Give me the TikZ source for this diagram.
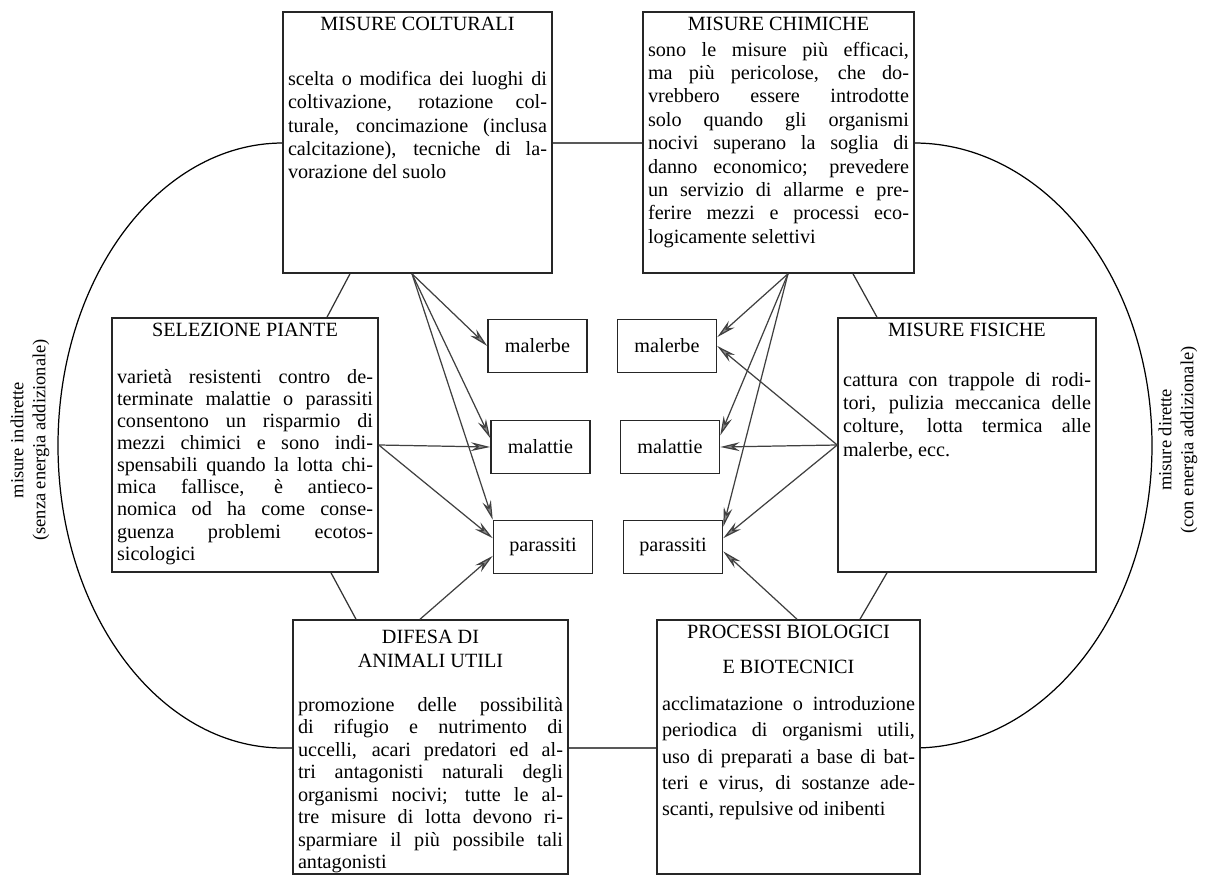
\documentclass[tikz,border=0pt]{standalone}
\usepackage{fontspec}
\setmainfont{Liberation Serif}
\usetikzlibrary{arrows.meta}

\newcommand{\testo}{\fontsize{11.5}{13.3}\selectfont}
\newcommand{\riga}[1]{\makebox[\linewidth][s]{#1}\par}

\tikzset{
  misura/.style={draw=black!85, line width=0.9pt, fill=white, inner sep=0.1cm},
  bersaglio/.style={draw=black!85, line width=0.9pt, fill=white, inner sep=0pt,
    minimum width=1.98cm, minimum height=1.06cm, font=\testo},
  freccia/.style={draw=black!75, line width=0.7pt, -{Stealth[length=11pt,width=5pt,fill=black!45]}},
  legame/.style={draw=black!80, line width=0.7pt},
  lato/.style={rotate=90, align=center, font=\fontsize{10.5}{12.5}\selectfont},
}

\begin{document}
\begin{tikzpicture}[x=0.02cm, y=-0.02cm]
  \useasboundingbox (0,0) rectangle (1205,876);

  % ovale
  \draw[line width=0.7pt] (597,143) -- (914,143)
    arc[start angle=-90, end angle=90, x radius=238, y radius=302.5]
    -- (283,748)
    arc[start angle=90, end angle=270, x radius=225, y radius=302.5] -- cycle;

  \node[lato] (indir) at (30,440) {misure indirette\\(senza energia addizionale)};
  \node[lato] (dir) at (1178,440) {misure dirette\\(con energia addizionale)};

  % misure
  \node[misura] (colt) at (417.5,142.5) {\begin{minipage}[t][5.02cm][t]{5.18cm}\testo
    {\centering MISURE COLTURALI\par}\vspace{18pt}
    \riga{scelta o modifica dei luoghi di}
    \riga{coltivazione, rotazione col-}
    \riga{turale, concimazione (inclusa}
    \riga{calcitazione), tecniche di la-}
    vorazione del suolo
  \end{minipage}};

  \node[misura] (chim) at (778.5,142.5) {\begin{minipage}[t][5.02cm][t]{5.22cm}\testo
    {\centering MISURE CHIMICHE\par}\vspace{1.4pt}
    \riga{sono le misure più efficaci,}
    \riga{ma più pericolose, che do-}
    \riga{vrebbero essere introdotte}
    \riga{solo quando gli organismi}
    \riga{nocivi superano la soglia di}
    \riga{danno economico; prevedere}
    \riga{un servizio di allarme e pre-}
    \riga{ferire mezzi e processi eco-}
    logicamente selettivi
  \end{minipage}};

  \node[misura] (sel) at (245,445) {\begin{minipage}[t][4.88cm][t]{5.12cm}\fontsize{11.5}{12.6}\selectfont
    {\centering SELEZIONE PIANTE\par}\vspace{14pt}
    \riga{varietà resistenti contro de-}
    \riga{terminate malattie o parassiti}
    \riga{consentono un risparmio di}
    \riga{mezzi chimici e sono indi-}
    \riga{spensabili quando la lotta chi-}
    \riga{mica fallisce, è antieco-}
    \riga{nomica od ha come conse-}
    \riga{guenza problemi ecotos-}
    sicologici
  \end{minipage}};

  \node[misura] (fis) at (967,445) {\begin{minipage}[t][4.88cm][t]{4.96cm}\testo
    {\centering MISURE FISICHE\par}\vspace{15pt}
    \riga{cattura con trappole di rodi-}
    \riga{tori, pulizia meccanica delle}
    \riga{colture, lotta termica alle}
    malerbe, ecc.
  \end{minipage}};

  \node[misura] (dif) at (430.5,747) {\begin{minipage}[t][4.88cm][t]{5.3cm}\fontsize{11.5}{12.8}\selectfont
    \vspace*{3pt}{\centering DIFESA DI\\[1pt]ANIMALI UTILI\par}\vspace{12pt}
    \riga{promozione delle possibilità}
    \riga{di rifugio e nutrimento di}
    \riga{uccelli, acari predatori ed al-}
    \riga{tri antagonisti naturali degli}
    \riga{organismi nocivi; tutte le al-}
    \riga{tre misure di lotta devono ri-}
    \riga{sparmiare il più possibile tali}
    antagonisti
  \end{minipage}};

  \node[misura] (proc) at (788.5,747) {\begin{minipage}[t][4.88cm][t]{5.06cm}\fontsize{11.5}{15}\selectfont
    {\centering PROCESSI BIOLOGICI\\[5pt]E BIOTECNICI\par}\vspace{6pt}
    \riga{acclimatazione o introduzione}
    \riga{periodica di organismi utili,}
    \riga{uso di preparati a base di bat-}
    \riga{teri e virus, di sostanze ade-}
    scanti, repulsive od inibenti
  \end{minipage}};

  % organismi nocivi
  \node[bersaglio] (mal1) at (537.5,346) {malerbe};
  \node[bersaglio] (mat1) at (540.5,447) {malattie};
  \node[bersaglio] (par1) at (543,547) {parassiti};
  \node[bersaglio] (mal2) at (667,346) {malerbe};
  \node[bersaglio] (mat2) at (670,447) {malattie};
  \node[bersaglio] (par2) at (673,547) {parassiti};

  % legami tra le misure
  \draw[legame] ([xshift=-1.35cm]colt.south) -- ([xshift=1.64cm]sel.north);
  \draw[legame] ([xshift=1.72cm]sel.south) -- ([xshift=-1.49cm]dif.north);
  \draw[legame] ([xshift=1.49cm]chim.south) -- ([xshift=-1.8cm]fis.north);
  \draw[legame] ([xshift=-1.6cm]fis.south) -- ([xshift=1.43cm]proc.north);

  % frecce
  \draw[freccia] ([xshift=-0.11cm]colt.south) -- (mal1.west);
  \draw[freccia] ([xshift=-0.11cm]colt.south) -- (mat1.170);
  \draw[freccia] ([xshift=-0.11cm]colt.south) -- (par1.north west);
  \draw[freccia] ([xshift=0.19cm]chim.south) -- (mal2.10);
  \draw[freccia] ([xshift=0.19cm]chim.south) -- (mat2.13);
  \draw[freccia] ([xshift=0.19cm]chim.south) -- (par2.22);
  \draw[freccia] (sel.east) -- (mat1.west);
  \draw[freccia] (sel.east) -- (par1.170);
  \draw[freccia] (fis.west) -- (mal2.east);
  \draw[freccia] (fis.west) -- (mat2.east);
  \draw[freccia] (fis.west) -- (par2.10);
  \draw[freccia] ([xshift=-0.21cm]dif.north) -- (par1.190);
  \draw[freccia] ([xshift=0.17cm]proc.north) -- (par2.-5);
\end{tikzpicture}
\end{document}
